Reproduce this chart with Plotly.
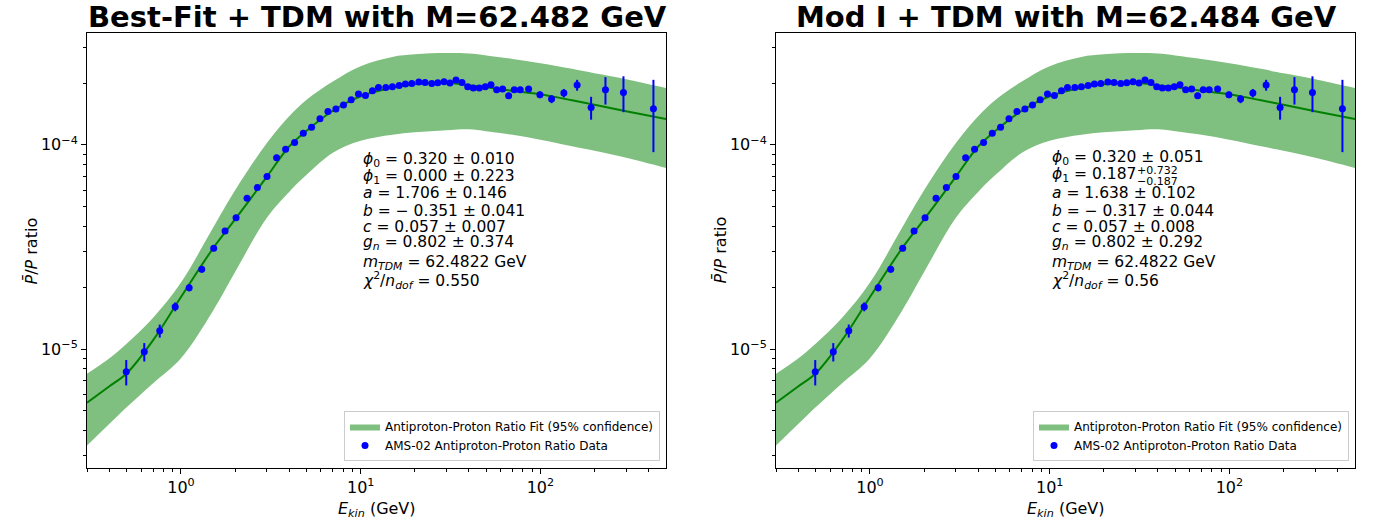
import math
import plotly.graph_objects as go

# ---------------- data ----------------
E_DATA = [0.496, 0.625, 0.762, 0.929, 1.111, 1.305, 1.521, 1.760, 2.026, 2.332,
          2.661, 3.012, 3.406, 3.822, 4.288, 4.793, 5.331, 5.934, 6.574, 7.282,
          8.025, 8.855, 9.723, 10.63, 11.63, 12.56, 13.80, 15.02, 16.37, 17.74,
          19.25, 21.06, 22.82, 24.86, 26.85, 29.10, 31.42, 33.93, 36.64, 39.41,
          42.34, 45.71, 49.35, 53.09, 57.11, 61.66, 66.58, 71.53, 77.23, 86.0,
          99.4, 115.4, 135.1, 160.1, 191.5, 230.2, 289.9, 425.6]
RATIO = [7.74e-6, 9.70e-6, 1.229e-5, 1.612e-5, 1.998e-5, 2.458e-5, 3.115e-5, 3.789e-5, 4.400e-5, 5.478e-5,
         6.174e-5, 6.993e-5, 8.635e-5, 9.527e-5, 1.026e-4, 1.141e-4, 1.221e-4, 1.341e-4, 1.456e-4, 1.496e-4,
         1.565e-4, 1.662e-4, 1.772e-4, 1.744e-4, 1.839e-4, 1.909e-4, 1.909e-4, 1.924e-4, 1.953e-4, 1.984e-4,
         1.997e-4, 2.029e-4, 2.020e-4, 1.997e-4, 2.013e-4, 2.036e-4, 2.006e-4, 2.076e-4, 2.020e-4, 1.924e-4,
         1.896e-4, 1.896e-4, 1.924e-4, 1.968e-4, 1.860e-4, 1.875e-4, 1.738e-4, 1.860e-4, 1.860e-4, 1.875e-4,
         1.758e-4, 1.675e-4, 1.792e-4, 1.961e-4, 1.523e-4, 1.860e-4, 1.805e-4, 1.501e-4]
RATIO_ERR = [1.1e-6, 1.0e-6, 0.9e-6, 0.8e-6, 0.8e-6, 0.9e-6, 1.0e-6, 1.2e-6, 1.3e-6, 1.6e-6,
             1.8e-6, 2.0e-6, 2.5e-6, 2.7e-6, 2.9e-6, 3.2e-6, 3.4e-6, 3.7e-6, 4.0e-6, 4.1e-6,
             4.3e-6, 4.4e-6, 4.5e-6, 4.5e-6, 4.6e-6, 4.7e-6, 4.7e-6, 4.8e-6, 4.8e-6, 4.9e-6,
             4.9e-6, 5.0e-6, 5.0e-6, 5.0e-6, 5.0e-6, 5.1e-6, 5.1e-6, 5.2e-6, 5.2e-6, 5.2e-6,
             5.3e-6, 5.4e-6, 5.5e-6, 5.6e-6, 5.7e-6, 5.8e-6, 5.9e-6, 6.0e-6, 6.2e-6, 6.3e-6,
             6.5e-6, 7.5e-6, 8.5e-6, 1.2e-5, 1.95e-5, 2.85e-5, 3.6e-5, 5.8e-5]

E_FIT = [0.3, 0.4, 0.5, 0.7, 1, 1.5, 2, 3, 4, 5, 7, 10, 15, 20, 30, 40, 50, 70, 100, 150, 200, 300, 500]
FIT_CENTER = [5.465e-6, 6.584e-6, 7.625e-6, 1.107e-5, 1.798e-5, 3.091e-5, 4.312e-5, 6.968e-5, 9.81e-5, 1.172e-4,
              1.468e-4, 1.729e-4, 1.902e-4, 1.979e-4, 2.013e-4, 1.957e-4, 1.913e-4, 1.839e-4, 1.768e-4, 1.652e-4,
              1.571e-4, 1.460e-4, 1.336e-4]
FIT_UPPER = [7.58e-6, 9.03e-6, 1.066e-5, 1.425e-5, 2.118e-5, 3.892e-5, 5.996e-5, 1.018e-4, 1.379e-4, 1.662e-4,
             2.043e-4, 2.428e-4, 2.694e-4, 2.774e-4, 2.812e-4, 2.796e-4, 2.739e-4, 2.633e-4, 2.512e-4, 2.355e-4,
             2.239e-4, 2.097e-4, 1.898e-4]
FIT_LOWER = [3.373e-6, 4.312e-6, 5.208e-6, 6.813e-6, 9.03e-6, 1.53e-5, 2.384e-5, 4.386e-5, 5.882e-5, 7.129e-5,
             9.137e-5, 1.046e-4, 1.119e-4, 1.151e-4, 1.178e-4, 1.191e-4, 1.165e-4, 1.119e-4, 1.058e-4, 9.83e-5,
             9.35e-5, 8.635e-5, 7.696e-5]

TITLES = ["Best-Fit + TDM with M=62.482 GeV", "Mod I + TDM with M=62.484 GeV"]
PARAMS_LEFT = ["<i>ϕ</i><sub>0</sub> = 0.320 ± 0.010",
               "<i>ϕ</i><sub>1</sub> = 0.000 ± 0.223",
               "<i>a</i> = 1.706 ± 0.146",
               "<i>b</i> = − 0.351 ± 0.041",
               "<i>c</i> = 0.057 ± 0.007",
               "<i>g</i><sub><i>n</i></sub> = 0.802 ± 0.374",
               "<i>m</i><sub><i>TDM</i></sub> = 62.4822 GeV",
               "<i>χ</i><sup>2</sup>/<i>n</i><sub><i>dof</i></sub> = 0.550"]
PARAMS_RIGHT = ["<i>ϕ</i><sub>0</sub> = 0.320 ± 0.051",
                "<i>ϕ</i><sub>1</sub> = 0.187",
                "<i>a</i> = 1.638 ± 0.102",
                "<i>b</i> = − 0.317 ± 0.044",
                "<i>c</i> = 0.057 ± 0.008",
                "<i>g</i><sub><i>n</i></sub> = 0.802 ± 0.292",
                "<i>m</i><sub><i>TDM</i></sub> = 62.4822 GeV",
                "<i>χ</i><sup>2</sup>/<i>n</i><sub><i>dof</i></sub> = 0.56"]
PHI1_RIGHT_UP = "+0.732"
PHI1_RIGHT_DN = "−0.187"

X_TICKS = [1, 10, 100]
X_TICKTEXT = ["10<sup>0</sup>", "10<sup>1</sup>", "10<sup>2</sup>"]
X_MINOR = [0.3, 0.4, 0.5, 0.6, 0.7, 0.8, 0.9, 2, 3, 4, 5, 6, 7, 8, 9,
           20, 30, 40, 50, 60, 70, 80, 90, 200, 300, 400]
Y_TICKS = [1e-5, 1e-4]
Y_TICKTEXT = ["10<sup>−5</sup>", "10<sup>−4</sup>"]
Y_MINOR = [3e-6, 4e-6, 5e-6, 6e-6, 7e-6, 8e-6, 9e-6,
           2e-5, 3e-5, 4e-5, 5e-5, 6e-5, 7e-5, 8e-5, 9e-5, 2e-4, 3e-4]

LEGEND_BAND = "Antiproton-Proton Ratio Fit (95% confidence)"
LEGEND_DATA = "AMS-02 Antiproton-Proton Ratio Data"

# ---------------- layout geometry ----------------
W, H = 1388, 525
ML, MR, MT, MB = 87, 33, 33, 57
PW = W - ML - MR
PH = H - MT - MB
FONT = "DejaVu Sans"


def px(xp):
    return (xp - ML) / PW


def py(yp):
    return (H - MB - yp) / PH


PANEL_OFFSET = 689
dom1 = [0, px(666)]
dom2 = [px(776), 1]

fig = go.Figure()

BAND_COLOR = "rgba(0,128,0,0.5)"
LINE_COLOR = "#008000"

for i, (xa, ya, leg) in enumerate([("x", "y", "legend"), ("x2", "y2", "legend2")]):
    fig.add_trace(go.Scatter(x=E_FIT, y=FIT_LOWER, mode="lines", line=dict(width=0, shape="spline"),
                             xaxis=xa, yaxis=ya, showlegend=False, hoverinfo="skip"))
    fig.add_trace(go.Scatter(x=E_FIT, y=FIT_UPPER, mode="lines", line=dict(width=0, shape="spline"),
                             fill="tonexty", fillcolor=BAND_COLOR, name=LEGEND_BAND,
                             xaxis=xa, yaxis=ya, legend=leg, showlegend=True))
    fig.add_trace(go.Scatter(x=E_FIT, y=FIT_CENTER, mode="lines",
                             line=dict(color=LINE_COLOR, width=2, shape="spline"),
                             xaxis=xa, yaxis=ya, showlegend=False))
    fig.add_trace(go.Scatter(x=E_DATA, y=RATIO, mode="markers",
                             marker=dict(color="#0000ff", size=7, symbol="circle"),
                             error_y=dict(type="data", array=RATIO_ERR, color="#0000ff", thickness=2, width=0),
                             name=LEGEND_DATA, xaxis=xa, yaxis=ya, legend=leg, showlegend=True))

axis_common = dict(showgrid=False, zeroline=False, showline=True, linecolor="black", linewidth=1,
                   mirror=True, ticks="outside", ticklen=5, tickwidth=1, tickcolor="black",
                   tickfont=dict(family=FONT, size=16, color="black"))

xcommon = dict(axis_common, type="log", range=[math.log10(0.3), math.log10(500)],
               tickmode="array", tickvals=X_TICKS, ticktext=X_TICKTEXT,
               minor=dict(tickmode="array", tickvals=X_MINOR, ticks="outside", ticklen=3,
                          tickwidth=1, tickcolor="black"))
ycommon = dict(axis_common, type="log", range=[-5.582, -3.4525],
               tickmode="array", tickvals=Y_TICKS, ticktext=Y_TICKTEXT,
               minor=dict(tickmode="array", tickvals=Y_MINOR, ticks="outside", ticklen=3,
                          tickwidth=1, tickcolor="black"))

legend_common = dict(font=dict(family=FONT, size=12, color="black"), bgcolor="rgba(255,255,255,0.8)",
                     bordercolor="#cccccc", borderwidth=1, xanchor="right", yanchor="bottom",
                     tracegroupgap=0, itemwidth=30, traceorder="normal")

fig.update_layout(
    width=W, height=H, margin=dict(l=ML, r=MR, t=MT, b=MB),
    paper_bgcolor="white", plot_bgcolor="white",
    font=dict(family=FONT, color="black"),
    xaxis=dict(xcommon, domain=dom1, anchor="y"),
    yaxis=dict(ycommon, domain=[0, 1], anchor="x"),
    xaxis2=dict(xcommon, domain=dom2, anchor="y2"),
    yaxis2=dict(ycommon, domain=[0, 1], anchor="x2"),
    legend=dict(legend_common, x=px(660), y=py(461)),
    legend2=dict(legend_common, x=px(660 + PANEL_OFFSET), y=py(461)),
)

ann = []
for k, off in enumerate([0, PANEL_OFFSET]):
    # title
    ann.append(dict(text="<b>" + TITLES[k] + "</b>", x=px(377 + off), y=py(16.5), xref="paper", yref="paper",
                    xanchor="center", yanchor="middle", showarrow=False,
                    font=dict(family=FONT, size=29, color="black")))
    # x label
    ann.append(dict(text="<i>E</i><sub><i>kin</i></sub> (GeV)", x=px(376.5 + off), y=py(509),
                    xref="paper", yref="paper", xanchor="center", yanchor="middle", showarrow=False,
                    font=dict(family=FONT, size=16, color="black")))
    # y label
    ann.append(dict(text="<i>P̄</i>/<i>P</i> ratio", x=px(31 + off), y=py(250.5),
                    xref="paper", yref="paper", xanchor="center", yanchor="middle", showarrow=False,
                    textangle=-90, font=dict(family=FONT, size=16, color="black")))

ys_left = [160, 176.7, 193.3, 211, 227.3, 243.3, 262.7, 280]
ys_right = [158.3, 175, 193.3, 211, 227.3, 243.3, 262.7, 280.7]
for t, yv in zip(PARAMS_LEFT, ys_left):
    ann.append(dict(text=t, x=px(360.7), y=py(yv), xref="paper", yref="paper", xanchor="left",
                    yanchor="middle", showarrow=False, font=dict(family=FONT, size=15.5, color="black")))
for t, yv in zip(PARAMS_RIGHT, ys_right):
    ann.append(dict(text=t, x=px(1050), y=py(yv), xref="paper", yref="paper", xanchor="left",
                    yanchor="middle", showarrow=False, font=dict(family=FONT, size=15.5, color="black")))
ann.append(dict(text=PHI1_RIGHT_UP, x=px(1135), y=py(170), xref="paper", yref="paper", xanchor="left",
                yanchor="middle", showarrow=False, font=dict(family=FONT, size=11, color="black")))
ann.append(dict(text=PHI1_RIGHT_DN, x=px(1135), y=py(181), xref="paper", yref="paper", xanchor="left",
                yanchor="middle", showarrow=False, font=dict(family=FONT, size=11, color="black")))

fig.update_layout(annotations=ann)
fig.write_html("out.html")
